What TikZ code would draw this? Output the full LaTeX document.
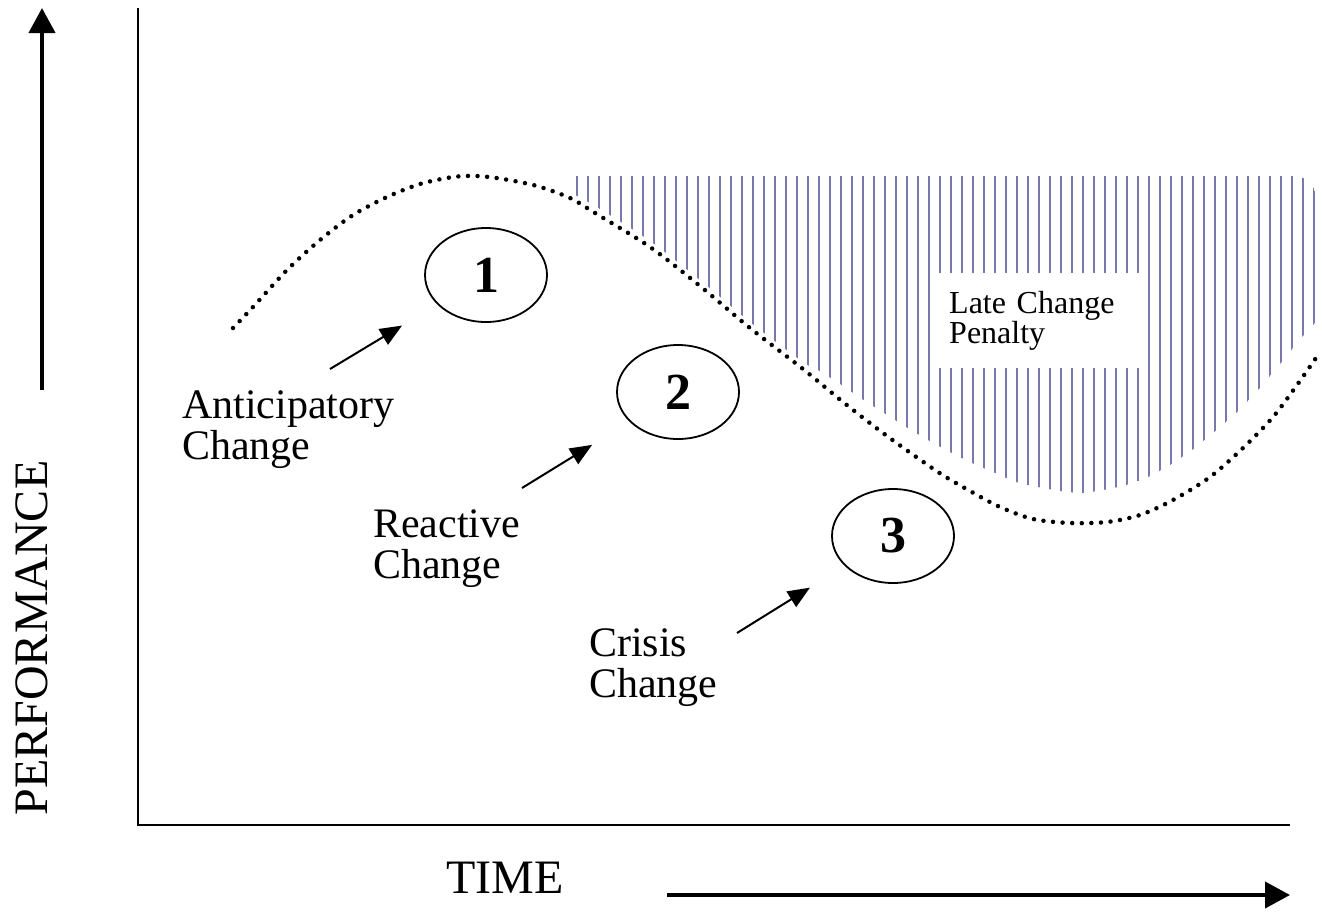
\documentclass[tikz,border=0pt]{standalone}
\usepackage{fontspec}
\setmainfont{Liberation Serif}
\usetikzlibrary{arrows.meta,shapes.geometric}
\definecolor{hatchblue}{RGB}{120,120,172}
\begin{document}
\begin{tikzpicture}[x=1pt,y=-1pt,
  bignum/.style={draw,ellipse,line width=1.8pt,minimum width=122pt,minimum height=94pt,inner sep=0pt,font=\fontsize{52}{52}\selectfont\bfseries},
  lab/.style={anchor=base west,align=left,inner sep=0pt,font=\fontsize{42}{41}\selectfont},
  pointer/.style={line width=2pt,-{Triangle[length=22pt,width=18pt]}},
  axisarrow/.style={line width=4pt,-{Triangle[length=25pt,width=26pt]}},
  dots/.style={line width=4.5pt,line cap=round,dash pattern=on 0pt off 9.6pt},
  hatchline/.style={hatchblue,line width=2.1pt}
]
\useasboundingbox (0,0) rectangle (1322,913);

% hatched late change penalty region
\begin{scope}
\clip (575,176) -- (1294,176) to[out=0,in=90] (1316,198) -- (1316,322)
  -- plot[smooth] coordinates {(1316,322) (1302,337) (1280,364) (1258,390) (1236,413) (1213,433) (1192,450) (1170,465) (1148,477) (1126,485) (1103,490) (1082,493) (1060,491) (1038,487) (1016,482) (993,472) (972,463) (950,452) (928,440) (906,427) (884,413) (862,399) (840,384) (818,370) (803,362) (750,322) (700,280) (650,241) (595,206) (575,195)}
  -- cycle;
\foreach \x in {577,588,...,1316} \draw[hatchline] (\x,170) -- (\x,500);
\end{scope}

% dotted performance curve
\draw[dots] plot[smooth] coordinates {(233,328) (253,307) (287,270) (320,240) (353,215) (387,197) (420,184) (453,177) (477,176) (503,179) (537,186) (570,198) (595,213) (650,247) (700,286) (750,328) (803,369) (843,402) (887,436) (938,472) (970,491) (1000,507) (1033,519) (1070,523) (1107,522) (1140,515) (1173,500) (1210,477) (1243,448) (1273,417) (1297,385) (1318,355)};

% penalty label
\node[fill=white,anchor=north west,minimum width=210pt,minimum height=95pt,inner xsep=19pt,inner ysep=0pt,text width=172pt,align=left,font=\fontsize{32}{30}\selectfont] (pen) at (930,273) {Late Change\\Penalty};

% axes
\coordinate (ytop) at (138,8);
\coordinate (origin) at (138,825);
\coordinate (xend) at (1290,825);
\draw[line width=2pt] (ytop) -- (origin) -- (xend);

\coordinate (pa0) at (42,390);
\coordinate (pa1) at (42,8);
\draw[axisarrow] (pa0) -- (pa1);
\coordinate (ta0) at (667,895);
\coordinate (ta1) at (1290,895);
\draw[axisarrow] (ta0) -- (ta1);

\node[font=\fontsize{48}{48}\selectfont,rotate=90,inner sep=0pt] (perf) at (32,638) {PERFORMANCE};
\node[font=\fontsize{48}{48}\selectfont,anchor=base west,inner sep=0pt] (time) at (446,893) {TIME};

% numbered ellipses
\node[bignum] (e1) at (486,275) {1};
\node[bignum] (e2) at (678,392) {2};
\node[bignum] (e3) at (893,536) {3};

% labels (anchor at baseline of last line)
\node[lab] (ant) at (182,459) {Anticipatory\\Change};
\node[lab] (rea) at (373,578) {Reactive\\Change};
\node[lab] (cri) at (589,697) {Crisis\\Change};

% pointers
\coordinate (s1) at (330,369);
\coordinate (s2) at (522,488);
\coordinate (s3) at (737,633);
\draw[pointer,shorten >=41pt] (s1) -- (e1);
\draw[pointer,shorten >=44pt] (s2) -- (e2);
\draw[pointer,shorten >=41pt] (s3) -- (e3);
\end{tikzpicture}
\end{document}
